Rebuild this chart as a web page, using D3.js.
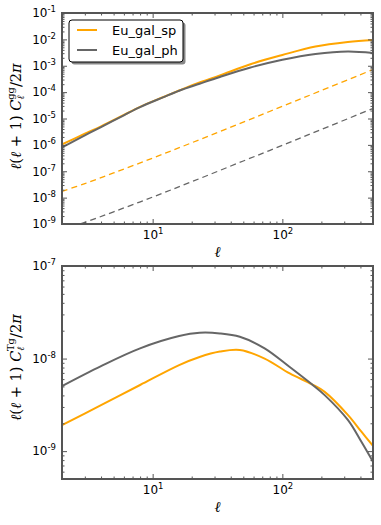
<!DOCTYPE html>
<html>
<head>
<meta charset="utf-8">
<script src="https://cdn.jsdelivr.net/npm/d3@7"></script>
<style>
  body { margin: 0; background: #fff; }
  svg { display: block; }
</style>
</head>
<body>
<div id="chart"></div>
<script>
// multipoles and values
var ellGG = [2, 3, 4, 6, 8, 12, 16, 23, 33, 56, 100, 180, 320, 500];
var ggSp = [1.04e-6, 2.65e-6, 5.07e-6, 1.37e-5, 2.77e-5, 6.4e-5, 1.15e-4, 2.33e-4, 4.3e-4, 1.12e-3, 2.56e-3, 5.38e-3, 7.98e-3, 9.5e-3];
var ggPh = [8.0e-7, 2.31e-6, 4.72e-6, 1.32e-5, 2.7e-5, 6.3e-5, 1.13e-4, 2.08e-4, 3.77e-4, 8.4e-4, 1.69e-3, 2.8e-3, 3.48e-3, 3.05e-3];

// shot noise (dashed)
var ellNoise = [2, 3, 5, 10, 20, 50, 100, 200, 500];
var noiseSp = [1.72e-8, 3.4e-8, 8.6e-8, 3.15e-7, 1.2e-6, 7.3e-6, 2.9e-5, 1.15e-4, 7.2e-4];
var noisePh = [5.8e-10, 1.15e-9, 2.9e-9, 1.05e-8, 4.0e-8, 2.45e-7, 9.6e-7, 3.85e-6, 2.4e-5];

var ellTg = [2, 4, 8, 16, 23, 33, 47, 73, 114, 168, 212, 321, 407, 500];
var tgSp = [1.91e-9, 3.14e-9, 5.18e-9, 8.5e-9, 1.04e-8, 1.19e-8, 1.24e-8, 1.0e-8, 6.9e-9, 5.3e-9, 4.37e-9, 2.45e-9, 1.62e-9, 1.14e-9];
var tgPh = [5.05e-9, 8.3e-9, 1.29e-8, 1.75e-8, 1.90e-8, 1.87e-8, 1.72e-8, 1.29e-8, 8.1e-9, 5.3e-9, 4.03e-9, 2.16e-9, 1.26e-9, 7.66e-10];

var seriesNames = ["Eu_gal_sp", "Eu_gal_ph"];
var colors = ["#ffa500", "#666666"];

var svgWidth = 381, svgHeight = 525;
var left = 62, width = 311;

var svg = d3.select("#chart").append("svg")
  .attr("width", svgWidth)
  .attr("height", svgHeight);

function logTicks(domain) {
  var major = [], minor = [];
  var lo = Math.floor(Math.log10(domain[0])), hi = Math.ceil(Math.log10(domain[1]));
  for (var e = lo; e <= hi; e++) {
    for (var k = 1; k <= 9; k++) {
      var v = k * Math.pow(10, e);
      if (v < domain[0] * 0.999 || v > domain[1] * 1.001) continue;
      if (k === 1) major.push(v); else minor.push(v);
    }
  }
  return { major: major, minor: minor };
}

function supLabels(sel) {
  sel.selectAll(".tick text").each(function(d) {
    var t = d3.select(this);
    t.text(null);
    t.append("tspan").text("10");
    t.append("tspan").attr("dy", -5).attr("font-size", 8.5).text(Math.round(Math.log10(d)));
  });
}

function drawAxes(g, x, y, h) {
  var xt = logTicks(x.domain()), yt = logTicks(y.domain());
  var defs = [
    [d3.axisBottom(x), xt, `translate(0,${h})`, true],
    [d3.axisTop(x), xt, null, false],
    [d3.axisLeft(y), yt, null, true],
    [d3.axisRight(y), yt, `translate(${width},0)`, false]
  ];
  defs.forEach(function(a) {
    var axis = a[0], ticks = a[1];
    var minorG = g.append("g").attr("class", "axis");
    if (a[2]) minorG.attr("transform", a[2]);
    minorG.call(axis.tickValues(ticks.minor).tickSize(-2.5).tickSizeOuter(0).tickFormat(""));
    var majorG = g.append("g").attr("class", "axis");
    if (a[2]) majorG.attr("transform", a[2]);
    majorG.call(axis.tickValues(ticks.major).tickSize(-5).tickPadding(6)
      .tickFormat(a[3] ? d => d : ""));
    [minorG, majorG].forEach(function(s) {
      s.select(".domain").remove();
      s.selectAll(".tick line").attr("stroke", "#555").attr("stroke-width", 1);
    });
    majorG.selectAll(".tick text")
      .attr("font-family", "DejaVu Sans")
      .attr("font-size", 12)
      .attr("fill", "#000");
    if (a[3]) supLabels(majorG);
  });
  g.append("rect")
    .attr("width", width).attr("height", h)
    .attr("fill", "none").attr("stroke", "#555").attr("stroke-width", 2);
}

// rotated math label, scaled so that it spans `len` pixels
function yLabel(cx, cy, sup, len) {
  var t = svg.append("text")
    .attr("transform", `translate(${cx},${cy}) rotate(-90)`)
    .attr("text-anchor", "middle")
    .attr("font-family", "DejaVu Serif")
    .attr("font-size", 16)
    .attr("fill", "#000");
  t.append("tspan").attr("font-style", "italic").text("ℓ");
  t.append("tspan").text("(");
  t.append("tspan").attr("font-style", "italic").text("ℓ");
  t.append("tspan").text(" + 1) ");
  t.append("tspan").attr("font-style", "italic").text("C");
  t.append("tspan").attr("font-style", "italic").attr("font-size", "0.68em").attr("dy", "0.35em").text("ℓ");
  t.append("tspan").attr("font-size", "0.68em").attr("dx", "-0.45em").attr("dy", "-1.05em").text(sup);
  t.append("tspan").attr("dy", "0.45em").text("/2");
  t.append("tspan").attr("font-style", "italic").text("π");
  var w = t.node().getBBox().width;
  t.attr("font-size", 16 * len / w);
}

var x0 = d3.scaleLog().domain([2, 500]).range([0, width]);

function panel(top, h, yDomain, lines, id) {
  var g = svg.append("g").attr("transform", `translate(${left},${top})`);
  var x = d3.scaleLog().domain([2, 500]).range([0, width]);
  var y = d3.scaleLog().domain(yDomain).range([h, 0]);

  g.append("clipPath").attr("id", id)
    .append("rect").attr("width", width).attr("height", h);

  var plot = g.append("g").attr("clip-path", `url(#${id})`);
  lines.forEach(function(l) {
    var line = d3.line()
      .x(d => x(d[0]))
      .y(d => y(d[1]))
      .curve(d3.curveCatmullRom.alpha(0.5));
    plot.append("path")
      .datum(d3.zip(l.ell, l.vals))
      .attr("d", line)
      .attr("fill", "none")
      .attr("stroke", l.color)
      .attr("stroke-width", l.dash ? 1.3 : 2)
      .attr("stroke-dasharray", l.dash ? "6,4" : null);
  });

  drawAxes(g, x, y, h);
  return g;
}

panel(13, 211, [1e-9, 1e-1], [
  { ell: ellNoise, vals: noiseSp, color: colors[0], dash: true },
  { ell: ellNoise, vals: noisePh, color: colors[1], dash: true },
  { ell: ellGG, vals: ggSp, color: colors[0] },
  { ell: ellGG, vals: ggPh, color: colors[1] }
], "clipTop");

panel(266, 213, [5e-10, 1e-7], [
  { ell: ellTg, vals: tgSp, color: colors[0] },
  { ell: ellTg, vals: tgPh, color: colors[1] }
], "clipBot");

yLabel(21, 116.5, "gg", 107);
yLabel(21, 367.5, "Tg", 107);

[257, 512].forEach(function(b) {
  svg.append("text")
    .attr("x", left + width / 2).attr("y", b)
    .attr("text-anchor", "middle")
    .attr("font-family", "DejaVu Serif")
    .attr("font-style", "italic")
    .attr("font-size", 15)
    .text("ℓ");
});

// legend
var legend = svg.append("g").attr("transform", "translate(69,20)");
legend.append("rect")
  .attr("x", 2.5).attr("y", 2.5).attr("width", 114).attr("height", 42).attr("rx", 3)
  .attr("fill", "#888");
legend.append("rect")
  .attr("width", 114).attr("height", 42).attr("rx", 3)
  .attr("fill", "#fff").attr("stroke", "#000").attr("stroke-width", 1);
seriesNames.forEach(function(name, i) {
  var yy = 10 + i * 20;
  legend.append("line")
    .attr("x1", 8).attr("x2", 28).attr("y1", yy).attr("y2", yy)
    .attr("stroke", colors[i]).attr("stroke-width", 2);
  legend.append("text")
    .attr("x", 43).attr("y", yy + 4.5)
    .attr("font-family", "DejaVu Sans")
    .attr("font-size", 13)
    .text(name);
});
</script>
</body>
</html>
